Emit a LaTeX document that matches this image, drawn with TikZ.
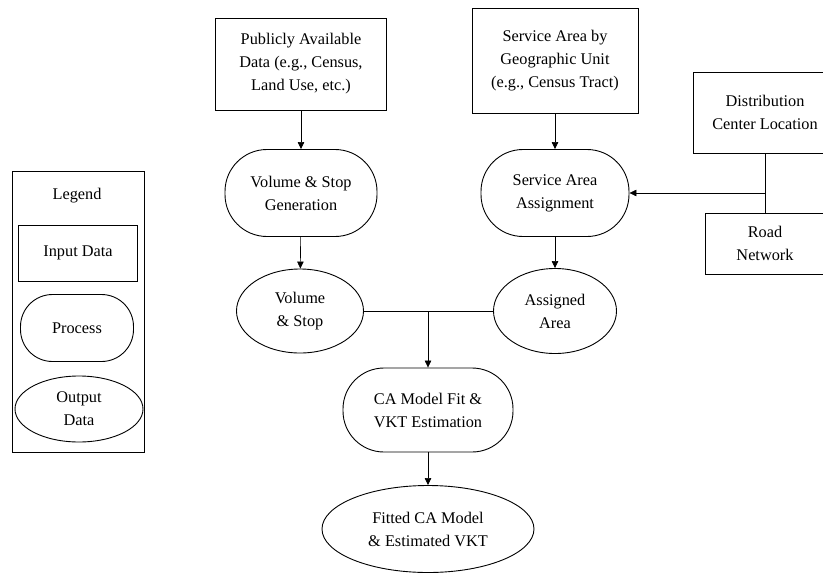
\documentclass[tikz,border=0pt]{standalone}
\usepackage{fontspec}
\setmainfont{Liberation Serif}
\usetikzlibrary{arrows.meta}
\usetikzlibrary{shapes.geometric}

\begin{document}
\begin{tikzpicture}[x=1pt, y=-1pt, >={Triangle[length=7pt,width=6.5pt]},
        font=\fontsize{16.3}{23}\selectfont,
        inputbox/.style={draw, line width=0.9pt, rectangle, align=center, inner sep=0pt},
        procbox/.style={draw, line width=0.9pt, rectangle, rounded corners=42pt, align=center, inner sep=0pt},
        outbox/.style={draw, line width=0.9pt, ellipse, align=center, inner sep=0pt},
        link/.style={line width=0.6pt}]
        \useasboundingbox (0,0) rectangle (823,574);

        % Draw the legend
        \draw[line width=0.9pt] (12,171) rectangle (144,452);
        \node (legtitle) at (77,196) {Legend};
        \node[inputbox, minimum width=119pt, minimum height=56pt] (legin) at (78,253) {Input Data};
        \node[procbox, rounded corners=32pt, minimum width=113pt, minimum height=67pt] (legproc) at (77,328) {Process};
        \node[outbox, minimum width=128pt, minimum height=66pt] (legout) at (79,409) {Output\\Data};

        % Draw the input data
        \node[inputbox, minimum width=171pt, minimum height=92pt] (pubdata) at (301,64)
            {Publicly Available\\Data (e.g., Census,\\Land Use, etc.)};
        \node[inputbox, minimum width=166pt, minimum height=105pt] (geounit) at (555,61)
            {Service Area by\\Geographic Unit\\(e.g., Census Tract)};
        \node[inputbox, minimum width=144pt, minimum height=81pt] (distcenter) at (765,112.5)
            {Distribution\\Center Location};
        \node[inputbox, minimum width=120pt, minimum height=61pt] (roadnet) at (765,243.5)
            {Road\\Network};

        % Draw the processes
        \node[procbox, minimum width=152pt, minimum height=87pt] (volgen) at (301,193)
            {Volume \& Stop\\Generation};
        \node[procbox, minimum width=148pt, minimum height=87pt] (assign) at (555,193)
            {Service Area\\Assignment};
        \node[procbox, rounded corners=41pt, minimum width=170pt, minimum height=84pt] (camodel) at (428,410)
            {CA Model Fit \&\\VKT Estimation};

        % Draw the outputs
        \node[outbox, minimum width=127pt, minimum height=84pt] (volstop) at (300,311)
            {Volume\\\& Stop};
        \node[outbox, minimum width=123pt, minimum height=85pt] (area) at (555,311)
            {Assigned\\Area};
        \node[outbox, minimum width=212pt, minimum height=87pt] (fitted) at (428,529)
            {Fitted CA Model\\\& Estimated VKT};

        % Draw the connectors
        \draw[link,->] (pubdata) -- (volgen);
        \draw[link,->] (volgen) -- (volstop);
        \draw[link,->] (geounit) -- (assign);
        \draw[link,->] (assign) -- (area);

        \draw[link] (distcenter) -- (roadnet);
        \coordinate (roadjoin) at (distcenter.south |- assign.east);
        \draw[link,->] (roadjoin) -- (assign.east);

        \draw[link] (volstop.east) -- (area.west);
        \coordinate (outjoin) at (camodel.north |- volstop.east);
        \draw[link,->] (outjoin) -- (camodel);
        \draw[link,->] (camodel) -- (fitted);
\end{tikzpicture}
\end{document}
